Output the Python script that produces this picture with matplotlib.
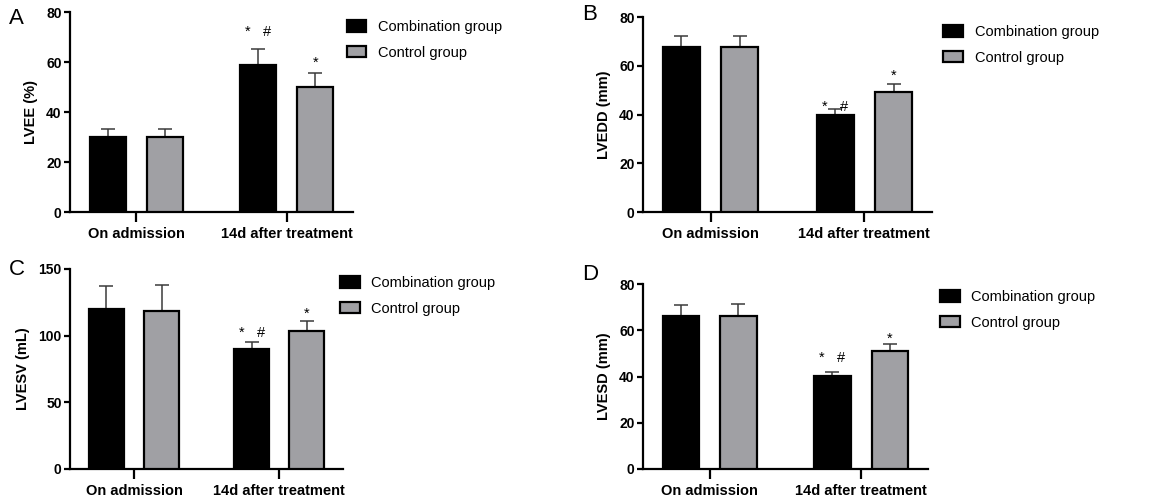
import numpy as np
import matplotlib
matplotlib.use("Agg")
import matplotlib.pyplot as plt
from matplotlib.patches import Patch

plt.rcParams['font.family'] = ['Liberation Sans', 'DejaVu Sans']

groups = ['On admission', '14d after treatment']
series = ['Combination group', 'Control group']

# mean values and upper error (SD) per panel: [combination, control]
lvee_mean = [[30, 59], [30, 50]]
lvee_err = [[3.2, 6.3], [3.3, 5.7]]
lvedd_mean = [[67.6, 40], [67.8, 49.3]]
lvedd_err = [[4.8, 2.4], [4.6, 3.3]]
lvesv_mean = [[120, 90], [118.5, 103.5]]
lvesv_err = [[17.5, 5.5], [19.5, 7.5]]
lvesd_mean = [[66.3, 40.3], [66.3, 51.3]]
lvesd_err = [[4.7, 1.9], [5.2, 2.7]]

# significance marks over the 14d bars
marks = ['*   #', '*']

panels = [
    dict(letter='A', ylabel='LVEE (%)', mean=lvee_mean, err=lvee_err, ymax=80, yticks=[0, 20, 40, 60, 80],
         rect=[0.0606, 0.576, 0.2448, 0.3994], leg=(0.300, 0.960), lpos=(0.008, 0.985), mpad=(7.5, 2.5)),
    dict(letter='B', ylabel='LVEDD (mm)', mean=lvedd_mean, err=lvedd_err, ymax=80, yticks=[0, 20, 40, 60, 80],
         rect=[0.5562, 0.576, 0.250, 0.3894], leg=(0.816, 0.950), lpos=(0.504, 0.992), mpad=(-4, 1)),
    dict(letter='C', ylabel='LVESV (mL)', mean=lvesv_mean, err=lvesv_err, ymax=150, yticks=[0, 50, 100, 150],
         rect=[0.0606, 0.062, 0.2362, 0.400], leg=(0.294, 0.448), lpos=(0.008, 0.482), mpad=(1, 0.5)),
    dict(letter='D', ylabel='LVESD (mm)', mean=lvesd_mean, err=lvesd_err, ymax=80, yticks=[0, 20, 40, 60, 80],
         rect=[0.5562, 0.062, 0.2465, 0.3694], leg=(0.813, 0.420), lpos=(0.504, 0.472), mpad=(4.5, -1)),
]

colors = ['black', '#a0a0a4']
width = 0.24
offsets = [-0.19, 0.19]

fig = plt.figure(figsize=(11.56, 5.0), dpi=100)

for p in panels:
    ax = fig.add_axes(p['rect'])
    x = np.arange(len(groups))
    for i in range(2):
        ax.bar(x + offsets[i], p['mean'][i], width, color=colors[i], edgecolor='black',
               linewidth=1.6, zorder=3, label=series[i])
        ax.errorbar(x + offsets[i], p['mean'][i], yerr=[[0, 0], p['err'][i]], fmt='none',
                    ecolor='#3a3a3a', elinewidth=1.1, capsize=5, capthick=1.1, zorder=2)
    # marks above 14d bars
    for i in range(2):
        top = p['mean'][i][1] + p['err'][i][1]
        ax.annotate(marks[i], (x[1] + offsets[i], top), xytext=(0, p['mpad'][i]), textcoords='offset points',
                    ha='center', va='bottom', fontsize=10.5)
    ax.set_xlim(-0.44, 1.44)
    ax.set_ylim(0, p['ymax'])
    ax.set_yticks(p['yticks'])
    ax.set_xticks(x)
    ax.set_xticklabels(groups)
    for s in ['top', 'right']:
        ax.spines[s].set_visible(False)
    for s in ['left', 'bottom']:
        ax.spines[s].set_linewidth(1.6)
    ax.tick_params(axis='y', length=4, width=1.6, pad=2, labelsize=10)
    ax.tick_params(axis='x', length=7, width=1.6, pad=4, labelsize=10.5)
    for lab in ax.get_xticklabels() + ax.get_yticklabels():
        lab.set_fontweight('bold')
    ax.set_ylabel(p['ylabel'], fontsize=10.5, fontweight='bold', labelpad=6)
    handles = [Patch(facecolor=colors[i], edgecolor='black', linewidth=1.6) for i in range(2)]
    fig.legend(handles, series, loc='upper left', bbox_to_anchor=p['leg'], frameon=False,
               fontsize=10.5, handlelength=1.35, handleheight=0.85, handletextpad=0.8,
               labelspacing=0.8, borderpad=0, borderaxespad=0)
    fig.text(p['lpos'][0], p['lpos'][1], p['letter'], fontsize=16, ha='left', va='top')

fig.savefig('out.png', dpi=100)
